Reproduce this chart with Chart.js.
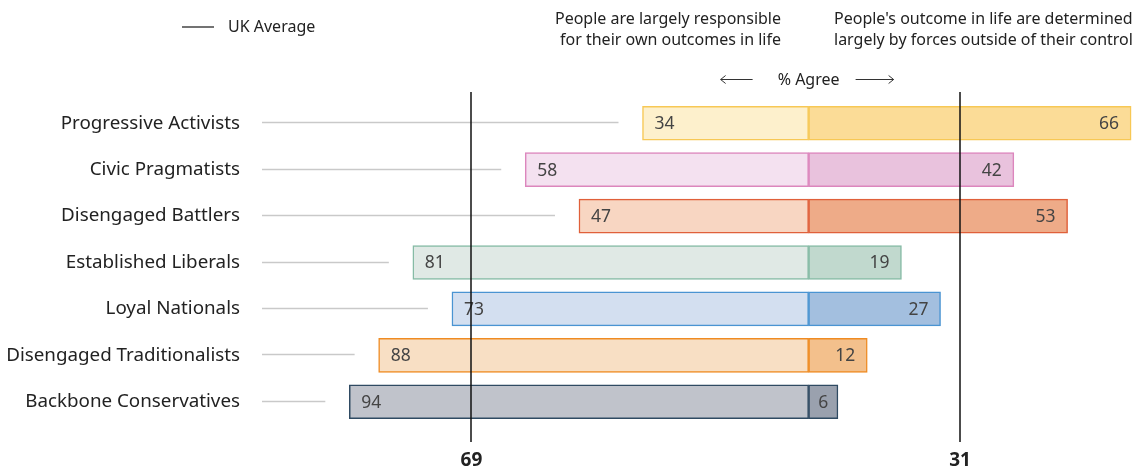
<!DOCTYPE html>
<html>
<head>
<meta charset="utf-8">
<script src="https://cdn.jsdelivr.net/npm/chart.js@4.4.1/dist/chart.umd.min.js"></script>
<style>
  html, body { margin: 0; padding: 0; background: #fff; }
</style>
</head>
<body>
<canvas id="myChart" width="1139" height="466"></canvas>
<script>
// segments and their % agree on each statement
const segments = [
    'Progressive Activists',
    'Civic Pragmatists',
    'Disengaged Battlers',
    'Established Liberals',
    'Loyal Nationals',
    'Disengaged Traditionalists',
    'Backbone Conservatives'
];
const ownOutcomes = [34, 58, 47, 81, 73, 88, 94];
const outsideForces = [66, 42, 53, 19, 27, 12, 6];
const ukAverage = [69, 31];

const lightFill = ['#fdf0cc', '#f4e1f0', '#f8d6c2', '#e0e9e5', '#d3dff0', '#f8dfc4', '#c0c3cb'];
const darkFill = ['#fbdc97', '#e9c2dd', '#eeab88', '#c1d9ce', '#a3bfdf', '#f3c08c', '#9aa1ae'];
const edgeColor = ['#f7c855', '#dc86bd', '#e0603a', '#86bba5', '#4a94d2', '#ef8b22', '#2f4a62'];

const FONT = "'Noto Sans', sans-serif";

const extras = {
    id: 'extras',
    beforeDatasetsDraw(chart) {
        // grey connector from label to bar
        const ctx = chart.ctx;
        const x = chart.scales.x;
        const y = chart.scales.y;
        ctx.save();
        ctx.strokeStyle = '#c9c9c9';
        ctx.lineWidth = 1.5;
        ownOutcomes.forEach((v, i) => {
            const yy = Math.round(y.getPixelForValue(i)) - 0.5;
            ctx.beginPath();
            ctx.moveTo(262, yy);
            ctx.lineTo(x.getPixelForValue(-v) - 24, yy);
            ctx.stroke();
        });
        ctx.restore();
    },
    afterDatasetsDraw(chart) {
        const ctx = chart.ctx;
        const x = chart.scales.x;
        const area = chart.chartArea;
        ctx.save();

        // value labels
        ctx.font = '17.5px ' + FONT;
        ctx.fillStyle = '#444';
        ctx.textBaseline = 'middle';
        chart.getDatasetMeta(0).data.forEach((bar, i) => {
            ctx.textAlign = 'left';
            ctx.fillText(ownOutcomes[i], bar.x + 12, bar.y + 1);
        });
        chart.getDatasetMeta(1).data.forEach((bar, i) => {
            const w = bar.x - bar.base;
            if (w < 40) {
                ctx.textAlign = 'center';
                ctx.fillText(outsideForces[i], bar.x - w / 2, bar.y + 1);
            } else {
                ctx.textAlign = 'right';
                ctx.fillText(outsideForces[i], bar.x - 12, bar.y + 1);
            }
        });

        // UK average lines
        ctx.strokeStyle = '#111';
        ctx.lineWidth = 1.5;
        [-ukAverage[0], ukAverage[1]].forEach(v => {
            const xx = Math.round(x.getPixelForValue(v));
            ctx.beginPath();
            ctx.moveTo(xx, area.top - 8);
            ctx.lineTo(xx, area.bottom + 17);
            ctx.stroke();
        });
        ctx.restore();
    },
    afterDraw(chart) {
        const ctx = chart.ctx;
        const mid = chart.scales.x.getPixelForValue(0);
        ctx.save();
        ctx.fillStyle = '#222';
        ctx.font = '16px ' + FONT;
        ctx.textBaseline = 'middle';

        // legend
        ctx.strokeStyle = '#444';
        ctx.lineWidth = 1.5;
        ctx.beginPath();
        ctx.moveTo(182, 27);
        ctx.lineTo(214, 27);
        ctx.stroke();
        ctx.textAlign = 'left';
        ctx.fillText('UK Average', 228, 27);

        // headers
        ctx.textAlign = 'right';
        ctx.fillText('People are largely responsible', 781, 19);
        ctx.fillText('for their own outcomes in life', 781, 40);
        ctx.textAlign = 'left';
        ctx.fillText("People's outcome in life are determined", 834, 19);
        ctx.fillText('largely by forces outside of their control', 834, 40);

        // % Agree with arrows
        ctx.textAlign = 'center';
        ctx.fillText('% Agree', mid, 80);
        ctx.strokeStyle = '#333';
        ctx.lineWidth = 1;
        const ay = 79.5;
        ctx.beginPath();
        ctx.moveTo(mid - 56, ay); ctx.lineTo(mid - 88, ay);
        ctx.moveTo(mid - 83, ay - 4); ctx.lineTo(mid - 88, ay); ctx.lineTo(mid - 83, ay + 4);
        ctx.moveTo(mid + 47, ay); ctx.lineTo(mid + 85, ay);
        ctx.moveTo(mid + 80, ay - 4); ctx.lineTo(mid + 85, ay); ctx.lineTo(mid + 80, ay + 4);
        ctx.stroke();
        ctx.restore();
    }
};

const ctx = document.getElementById('myChart').getContext('2d');
new Chart(ctx, {
    type: 'bar',
    data: {
        labels: segments,
        datasets: [{
            label: 'People are largely responsible for their own outcomes in life',
            data: ownOutcomes.map(v => -v),
            backgroundColor: lightFill,
            borderColor: edgeColor,
            borderWidth: 1.5,
            borderSkipped: false,
            barThickness: 34
        }, {
            label: "People's outcome in life are determined largely by forces outside of their control",
            data: outsideForces,
            backgroundColor: darkFill,
            borderColor: edgeColor,
            borderWidth: 1.5,
            borderSkipped: false,
            barThickness: 34
        }]
    },
    options: {
        indexAxis: 'y',
        responsive: false,
        animation: false,
        layout: { padding: { top: 100, right: 3, bottom: 0, left: 0 } },
        scales: {
            x: {
                stacked: true,
                min: -100,
                max: 67,
                afterBuildTicks: scale => {
                    scale.ticks = [{ value: -ukAverage[0] }, { value: ukAverage[1] }];
                },
                afterFit: scale => { scale.height = 41; },
                ticks: {
                    autoSkip: false,
                    maxRotation: 0,
                    padding: 24,
                    color: '#222',
                    font: { family: FONT, size: 19, weight: 'bold' },
                    callback: v => Math.abs(v)
                },
                grid: { display: false, drawTicks: false },
                border: { display: false }
            },
            y: {
                stacked: true,
                afterFit: scale => {
                    // labels sit far left of the bars, keep the plot height untouched
                    scale.width = 320;
                    scale.paddingTop = 0;
                    scale.paddingBottom = 0;
                },
                ticks: {
                    padding: 80,
                    color: '#222',
                    font: { family: FONT, size: 18.8 }
                },
                grid: { display: false, drawTicks: false },
                border: { display: false }
            }
        },
        plugins: {
            legend: false,
            tooltip: { enabled: false }
        }
    },
    plugins: [extras]
});
</script>
</body>
</html>
